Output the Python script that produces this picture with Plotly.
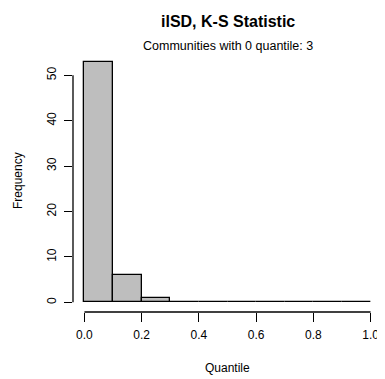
import plotly.graph_objects as go

# Data
bin_edges = [0.0, 0.1, 0.2, 0.3, 0.4, 0.5, 0.6, 0.7, 0.8, 0.9, 1.0]
counts = [53, 6, 1, 0, 0, 0, 0, 0, 0, 0]
x_ticks = [0.0, 0.2, 0.4, 0.6, 0.8, 1.0]
x_tick_labels = ["0.0", "0.2", "0.4", "0.6", "0.8", "1.0"]
y_ticks = [0, 10, 20, 30, 40, 50]
title = "ilSD, K-S Statistic"
subtitle = "Communities with 0 quantile: 3"
x_title = "Quantile"
y_title = "Frequency"

centers = [(a + b) / 2 for a, b in zip(bin_edges[:-1], bin_edges[1:])]
widths = [b - a for a, b in zip(bin_edges[:-1], bin_edges[1:])]

OFF = 8  # default page body margin
W, H = 385 - OFF, 379 - OFF
L, R, T, B = 73 - OFF, 3, 52 - OFF, 67
FONT = "Liberation Sans, Arial, sans-serif"

fig = go.Figure()
fig.add_trace(go.Bar(
    x=centers, y=counts, width=widths,
    marker=dict(color="#BEBEBE", line=dict(color="black", width=1.3)),
    hoverinfo="x+y",
))

xmin, xmax = bin_edges[0], bin_edges[-1]
xpad = 0.04 * (xmax - xmin)
ymax = max(counts)
ypad = 0.04 * ymax

# R-style axis lines spanning first to last tick
fig.add_shape(type="line", xref="x", yref="paper", x0=x_ticks[0], x1=x_ticks[-1],
              y0=0, y1=0, line=dict(color="black", width=1.3))
fig.add_shape(type="line", xref="paper", yref="y", x0=0, x1=0,
              y0=y_ticks[0], y1=y_ticks[-1], line=dict(color="black", width=1.3))

pw = W - L - R
ph = H - T - B

def px_x(px):
    return (px - OFF - L) / pw

def px_y(py):
    return (H - B - (py - OFF)) / ph

fig.update_layout(
    width=W, height=H, autosize=False,
    margin=dict(l=L, r=R, t=T, b=B, pad=0),
    paper_bgcolor="white", plot_bgcolor="white",
    showlegend=False, bargap=0,
    font=dict(family=FONT, color="black", size=12),
    xaxis=dict(range=[xmin - xpad, xmax + xpad], tickvals=x_ticks, ticktext=x_tick_labels,
               ticks="outside", ticklen=9, tickwidth=1.3, tickcolor="black",
               showgrid=False, zeroline=False, showline=False,
               tickfont=dict(size=12, family=FONT), ticklabelstandoff=3),
    yaxis=dict(range=[-ypad, ymax + ypad], tickvals=y_ticks,
               ticks="outside", ticklen=8, tickwidth=1.3, tickcolor="black",
               showgrid=False, zeroline=False, showline=False, tickangle=-90,
               tickfont=dict(size=12, family=FONT), ticklabelstandoff=3),
    annotations=[
        dict(text="<b>" + title + "</b>", x=px_x(227.5), y=px_y(21.5), xref="paper", yref="paper",
             showarrow=False, font=dict(size=16, family=FONT), xanchor="center", yanchor="middle"),
        dict(text=subtitle, x=px_x(227.5), y=px_y(46), xref="paper", yref="paper",
             showarrow=False, font=dict(size=12.5, family=FONT), xanchor="center", yanchor="middle"),
        dict(text=x_title, x=px_x(227.5), y=px_y(368), xref="paper", yref="paper",
             showarrow=False, font=dict(size=12, family=FONT), xanchor="center", yanchor="middle"),
        dict(text=y_title, x=px_x(18), y=px_y(181), xref="paper", yref="paper", textangle=-90,
             showarrow=False, font=dict(size=12, family=FONT), xanchor="center", yanchor="middle"),
    ],
)

fig.write_html("out.html")
